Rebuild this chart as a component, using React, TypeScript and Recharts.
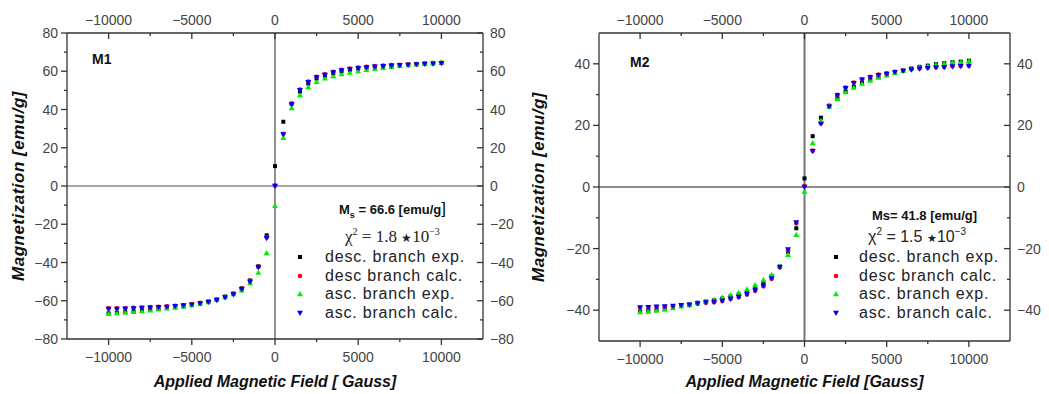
import React from "react";
import { Legend, ReferenceLine, Scatter, ScatterChart, XAxis, YAxis } from "recharts";

const FIELD = [
  -10000, -9500, -9000, -8500, -8000, -7500, -7000, -6500, -6000, -5500, -5000,
  -4500, -4000, -3500, -3000, -2500, -2000, -1500, -1000, -500, 0, 500, 1000,
  1500, 2000, 2500, 3000, 3500, 4000, 4500, 5000, 5500, 6000, 6500, 7000, 7500,
  8000, 8500, 9000, 9500, 10000,
];

// M1 sample
const M1_DESC_EXP = [
  -66.6, -66.3, -66.0, -65.6, -65.2, -64.8, -64.3, -63.8, -63.3, -62.7, -62.0,
  -61.3, -60.4, -59.3, -57.8, -56.2, -53.5, -49.4, -42.0, -25.8, 10.4, 33.6,
  43.1, 49.4, 53.6, 56.2, 57.7, 59.0, 60.0, 60.8, 61.4, 61.9, 62.3, 62.7, 63.0,
  63.2, 63.4, 63.7, 63.9, 64.1, 64.3,
];
const M1_DESC_CALC = [
  -64.0, -64.0, -63.9, -63.7, -63.5, -63.3, -63.1, -62.9, -62.6, -62.2, -61.7,
  -61.1, -60.4, -59.4, -58.0, -56.4, -53.7, -49.6, -42.2, -26.8, 0.2, 27.3,
  43.0, 50.4, 54.6, 57.1, 58.4, 59.7, 60.7, 61.4, 61.9, 62.3, 62.7, 63.0, 63.2,
  63.4, 63.6, 63.8, 64.0, 64.2, 64.4,
];
const M1_ASC_EXP = [
  -66.7, -66.4, -66.1, -65.8, -65.4, -65.0, -64.5, -64.0, -63.5, -63.0, -62.2,
  -61.5, -60.7, -59.5, -58.0, -56.5, -54.5, -50.8, -45.3, -35.0, -10.3, 25.2,
  40.7, 47.5, 51.8, 54.5, 56.3, 57.5, 58.5, 59.3, 60.0, 60.7, 61.3, 61.8, 62.3,
  62.8, 63.2, 63.6, 64.0, 64.4, 64.8,
];
const M1_ASC_CALC = [
  -64.3, -64.3, -64.1, -64.0, -63.8, -63.6, -63.4, -63.2, -62.8, -62.5, -62.0,
  -61.4, -60.7, -59.7, -58.3, -56.7, -54.0, -50.0, -42.5, -27.3, 0, 27.0, 42.7,
  50.1, 54.3, 56.8, 58.1, 59.4, 60.4, 61.1, 61.6, 62.0, 62.4, 62.7, 62.9, 63.1,
  63.3, 63.6, 63.8, 64.0, 64.2,
];

// M2 sample
const M2_DESC_EXP = [
  -40.5, -40.2, -39.9, -39.5, -39.1, -38.6, -38.2, -37.6, -37.2, -36.8, -36.2,
  -35.5, -34.8, -33.8, -32.5, -31.0, -28.9, -25.8, -21.0, -13.4, 2.8, 16.5,
  22.5, 26.4, 28.8, 31.0, 32.5, 33.8, 34.8, 35.7, 36.4, 37.2, 37.8, 38.5, 39.0,
  39.4, 39.9, 40.2, 40.5, 40.7, 41.0,
];
const M2_DESC_CALC = [
  -39.2, -39.1, -39.0, -38.9, -38.7, -38.5, -38.3, -37.9, -37.6, -37.4, -37.0,
  -36.4, -35.8, -34.9, -33.7, -32.2, -29.8, -26.1, -20.5, -11.8, 0.3, 11.8,
  20.7, 26.3, 29.9, 32.3, 33.9, 35.0, 35.8, 36.5, 36.9, 37.4, 37.8, 38.2, 38.5,
  38.7, 38.9, 39.0, 39.2, 39.3, 39.4,
];
const M2_ASC_EXP = [
  -40.6, -40.4, -40.1, -39.8, -39.3, -38.7, -38.3, -37.6, -37.1, -36.6, -35.9,
  -35.1, -34.3, -33.2, -31.8, -30.2, -28.5, -25.7, -22.0, -15.5, -1.5, 14.3,
  21.5, 26.1, 28.6, 30.8, 32.3, 33.6, 34.6, 35.5, 36.3, 37.1, 37.7, 38.4, 38.9,
  39.3, 39.8, 40.1, 40.4, 40.6, 41.0,
];
const M2_ASC_CALC = [
  -39.1, -39.0, -38.9, -38.8, -38.6, -38.4, -38.2, -37.8, -37.5, -37.3, -36.9,
  -36.3, -35.7, -34.8, -33.6, -32.1, -29.7, -26.0, -20.3, -11.5, 0, 11.6, 20.5,
  26.1, 29.7, 32.1, 33.7, 34.8, 35.6, 36.3, 36.7, 37.3, 37.7, 38.1, 38.4, 38.6,
  38.8, 38.9, 39.1, 39.2, 39.3,
];

const SERIES_NAMES = [
  "desc. branch exp.",
  "desc branch calc.",
  "asc. branch exp.",
  "asc. branch calc.",
];
const SERIES_COLORS = ["#000000", "#ff0000", "#00ee00", "#0000ff"];

const X_TICKS = [-10000, -7500, -5000, -2500, 0, 2500, 5000, 7500, 10000];
const M1_Y_TICKS = [-80, -70, -60, -50, -40, -30, -20, -10, 0, 10, 20, 30, 40, 50, 60, 70, 80];
const M2_Y_TICKS = [-40, -30, -20, -10, 0, 10, 20, 30, 40];

const TICK_FONT = "'Liberation Sans', Arial, sans-serif";
const TITLE_FONT = "'Liberation Sans', Arial, sans-serif";

const fmt = (v: number) => (v < 0 ? "\u2212" + Math.abs(v) : String(v));

// superscript that doesn't push the line box around
const supStyle: React.CSSProperties = {
  fontSize: 10,
  position: "relative",
  top: -7,
  verticalAlign: "baseline",
  lineHeight: 0,
};

type Side = "top" | "bottom" | "left" | "right";

const makeTick =
  (side: Side, gap: number, majorStep: number) => (props: any) => {
    const { x, y, payload } = props;
    const v = payload.value;
    const major = v % majorStep === 0;
    const len = major ? 6 : 3;
    const label = major ? fmt(v) : "";
    const common = { fontFamily: TICK_FONT, fontSize: 14, fill: "#444" };
    if (side === "bottom") {
      const ay = y - gap;
      return (
        <g>
          <line x1={x} x2={x} y1={ay} y2={ay + len} stroke="#333" strokeWidth={1.3} />
          <text x={x} y={y} textAnchor="middle" dominantBaseline="central" {...common}>{label}</text>
        </g>
      );
    }
    if (side === "top") {
      const ay = y + gap;
      return (
        <g>
          <line x1={x} x2={x} y1={ay} y2={ay + len} stroke="#333" strokeWidth={1.3} />
          <text x={x} y={y} textAnchor="middle" dominantBaseline="central" {...common}>{label}</text>
        </g>
      );
    }
    if (side === "left") {
      const ax = x + gap;
      return (
        <g>
          <line x1={ax - len} x2={ax} y1={y} y2={y} stroke="#333" strokeWidth={1.3} />
          <text x={x} y={y} textAnchor="end" dominantBaseline="central" {...common}>{label}</text>
        </g>
      );
    }
    const ax = x - gap;
    return (
      <g>
        <line x1={ax - len} x2={ax} y1={y} y2={y} stroke="#333" strokeWidth={1.3} />
        <text x={x} y={y} textAnchor="start" dominantBaseline="central" {...common}>{label}</text>
      </g>
    );
  };

const drawMarker = (i: number, cx: number, cy: number) => {
  const c = SERIES_COLORS[i];
  if (i === 0) return <rect x={cx - 2} y={cy - 2} width={4} height={4} fill={c} />;
  if (i === 1) return <circle cx={cx} cy={cy} r={2.3} fill={c} />;
  if (i === 2)
    return <polygon points={`${cx},${cy - 3} ${cx + 3},${cy + 2.2} ${cx - 3},${cy + 2.2}`} fill={c} />;
  return <polygon points={`${cx},${cy + 3} ${cx + 3},${cy - 2.2} ${cx - 3},${cy - 2.2}`} fill={c} />;
};

interface PanelProps {
  tag: string;
  tagPos: { left: number; top: number };
  series: number[][];
  width: number;
  leftW: number;
  rightW: number;
  bottomH: number;
  yDomain: [number, number];
  yTicks: number[];
  xTitle: string;
  zeroX: { stroke: string; width: number };
  zeroY: { stroke: string; width: number };
  ms: React.ReactNode;
  chi: React.ReactNode;
  legendLeft: number;
  legendTop: number;
  msIndent: number;
  chiIndent: number;
  msMid: number;
  chiMid: number;
  rowStart: number;
  markerX: number;
  textX: number;
}

const Panel: React.FC<PanelProps> = (p) => {
  const height = 394;
  const topH = 33;
  const datasets = p.series.map((vals) => FIELD.map((x, i) => ({ x, y: vals[i] })));

  const legendContent = () => (
    <div style={{ position: "relative", width: 200, height: 140, color: "#222" }}>
      <div
        style={{
          position: "absolute",
          left: p.msIndent,
          top: p.msMid - 10,
          height: 20,
          lineHeight: "20px",
          fontFamily: TITLE_FONT,
          fontWeight: "bold",
          fontSize: 13,
          color: "#111",
          whiteSpace: "nowrap",
        }}
      >
        {p.ms}
      </div>
      <div
        style={{
          position: "absolute",
          left: p.chiIndent,
          top: p.chiMid - 10,
          height: 20,
          lineHeight: "20px",
          whiteSpace: "nowrap",
        }}
      >
        {p.chi}
      </div>
      {SERIES_NAMES.map((name, i) => (
        <div
          key={name}
          style={{
            position: "absolute",
            left: 0,
            top: p.rowStart + i * 18.5,
            height: 18.5,
            width: 200,
          }}
        >
          <svg width={10} height={10} style={{ position: "absolute", left: p.markerX - 5, top: 4 }}>
            {drawMarker(i, 5, 5)}
          </svg>
          <span
            style={{
              position: "absolute",
              left: p.textX,
              top: 0,
              lineHeight: "18.5px",
              fontFamily: TICK_FONT,
              fontSize: 16,
              letterSpacing: 0.8,
              whiteSpace: "nowrap",
            }}
          >
            {name}
          </span>
        </div>
      ))}
    </div>
  );

  return (
    <div style={{ position: "relative", width: p.width, height }}>
      <ScatterChart width={p.width} height={height} margin={{ top: 0, right: 0, bottom: 0, left: 0 }}>
        <XAxis
          xAxisId="b"
          dataKey="x"
          type="number"
          orientation="bottom"
          domain={[-12500, 12500]}
          allowDataOverflow
          ticks={X_TICKS}
          interval={0}
          height={p.bottomH}
          tickSize={0}
          tickMargin={18}
          tickLine={false}
          tick={makeTick("bottom", 18, 5000)}
          axisLine={{ stroke: "#333", strokeWidth: 1.3 }}
          label={{
            value: p.xTitle,
            position: "insideBottom",
            offset: 7,
            style: { fontFamily: TITLE_FONT, fontWeight: "bold", fontStyle: "italic", fontSize: 16, fill: "#111" },
          }}
        />
        <XAxis
          xAxisId="t"
          dataKey="x"
          type="number"
          orientation="top"
          domain={[-12500, 12500]}
          allowDataOverflow
          ticks={X_TICKS}
          interval={0}
          height={topH}
          tickSize={0}
          tickMargin={13}
          tickLine={false}
          tick={makeTick("top", 13, 5000)}
          axisLine={{ stroke: "#333", strokeWidth: 1.3 }}
        />
        <YAxis
          yAxisId="l"
          dataKey="y"
          type="number"
          orientation="left"
          domain={p.yDomain}
          allowDataOverflow
          ticks={p.yTicks}
          interval={0}
          width={p.leftW}
          tickSize={0}
          tickMargin={9}
          tickLine={false}
          tick={makeTick("left", 9, 20)}
          axisLine={{ stroke: "#333", strokeWidth: 1.3 }}
          label={{
            value: "Magnetization [emu/g]",
            angle: -90,
            position: "insideLeft",
            offset: 18,
            style: {
              textAnchor: "middle",
              fontFamily: TITLE_FONT,
              fontWeight: "bold",
              fontStyle: "italic",
              fontSize: 17,
              letterSpacing: 0.5,
              fill: "#111",
            },
          }}
        />
        <YAxis
          yAxisId="r"
          dataKey="y"
          type="number"
          orientation="right"
          domain={p.yDomain}
          allowDataOverflow
          ticks={p.yTicks}
          interval={0}
          width={p.rightW}
          tickSize={0}
          tickMargin={7}
          tickLine={false}
          tick={makeTick("right", 7, 20)}
          axisLine={{ stroke: "#333", strokeWidth: 1.3 }}
        />
        <ReferenceLine xAxisId="b" yAxisId="l" y={0} stroke={p.zeroY.stroke} strokeWidth={p.zeroY.width} />
        <ReferenceLine xAxisId="b" yAxisId="l" x={0} stroke={p.zeroX.stroke} strokeWidth={p.zeroX.width} />
        {datasets.map((d, i) => (
          <Scatter
            key={SERIES_NAMES[i]}
            name={SERIES_NAMES[i]}
            xAxisId="b"
            yAxisId="l"
            data={d}
            fill={SERIES_COLORS[i]}
            isAnimationActive={false}
            shape={(s: any) => drawMarker(i, s.cx, s.cy)}
          />
        ))}
        <Legend
          layout="vertical"
          align="center"
          verticalAlign="middle"
          wrapperStyle={{ left: p.legendLeft, top: p.legendTop, width: 200, height: 140 }}
          content={legendContent}
        />
      </ScatterChart>
      <div
        style={{
          position: "absolute",
          left: p.tagPos.left,
          top: p.tagPos.top,
          fontFamily: TITLE_FONT,
          fontWeight: "bold",
          fontSize: 14,
          color: "#111",
        }}
      >
        {p.tag}
      </div>
    </div>
  );
};

const App: React.FC = () => {
  return (
    <div
      style={{
        position: "absolute",
        left: 0,
        top: 0,
        width: 1049,
        height: 394,
        background: "#fff",
        display: "flex",
        overflow: "hidden",
      }}
    >
      <Panel
        tag="M1"
        tagPos={{ left: 92, top: 51 }}
        series={[M1_DESC_EXP, M1_DESC_CALC, M1_ASC_EXP, M1_ASC_CALC]}
        width={520}
        leftW={67}
        rightW={37}
        bottomH={55}
        yDomain={[-80, 80]}
        yTicks={M1_Y_TICKS}
        xTitle="Applied Magnetic Field [ Gauss]"
        zeroX={{ stroke: "#222", width: 1 }}
        zeroY={{ stroke: "#888", width: 1.5 }}
        ms={
          <span>
            M
            <span style={{ fontSize: 9, position: "relative", top: 4, lineHeight: 0 }}>s</span> = 66.6
            [emu/g<span style={{ fontWeight: "normal", fontSize: 17, lineHeight: 0 }}>]</span>
          </span>
        }
        chi={
          <span style={{ fontFamily: "'Liberation Serif', 'DejaVu Serif', serif", fontSize: 17, color: "#222" }}>
            χ<span style={supStyle}>2</span> = 1.8 <span style={{ fontSize: 12, lineHeight: 0 }}>★</span>10
            <span style={supStyle}>−3</span>
          </span>
        }
        legendLeft={290}
        legendTop={200}
        msIndent={49}
        chiIndent={55}
        msMid={10}
        chiMid={37}
        rowStart={48}
        markerX={10}
        textX={35}
      />
      <Panel
        tag="M2"
        tagPos={{ left: 110, top: 54 }}
        series={[M2_DESC_EXP, M2_DESC_CALC, M2_ASC_EXP, M2_ASC_CALC]}
        width={529}
        leftW={79}
        rightW={39}
        bottomH={53}
        yDomain={[-50, 50]}
        yTicks={M2_Y_TICKS}
        xTitle="Applied Magnetic Field [Gauss]"
        zeroX={{ stroke: "#777", width: 2 }}
        zeroY={{ stroke: "#666", width: 1.5 }}
        ms={<span>Ms= 41.8 [emu/g]</span>}
        chi={
          <span style={{ fontFamily: TICK_FONT, fontSize: 16, color: "#222" }}>
            χ<span style={supStyle}>2</span> = 1.5 <span style={{ fontSize: 11, lineHeight: 0 }}>★</span>10
            <span style={supStyle}>−3</span>
          </span>
        }
        legendLeft={300}
        legendTop={200}
        msIndent={52}
        chiIndent={48}
        msMid={16}
        chiMid={37}
        rowStart={48}
        markerX={16}
        textX={39}
      />
    </div>
  );
};

export default App;
